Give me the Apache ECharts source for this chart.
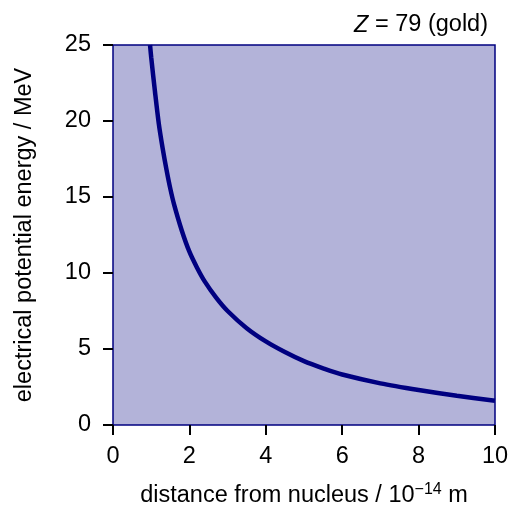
<!DOCTYPE html>
<html><head><meta charset="utf-8">
<script src="https://cdn.jsdelivr.net/npm/echarts@6/dist/echarts.min.js"></script>
<style>html,body{margin:0;padding:0;background:#fff}#c{width:513px;height:513px}</style>
</head><body><div id="c"></div>
<script>
const distances = [0.97, 1.0, 1.1, 1.2, 1.3, 1.4, 1.5, 1.6, 1.8, 2.0, 2.2, 2.4, 2.7, 3.0, 3.5, 4.0, 4.5, 5.0, 5.5, 6.0, 7.0, 8.0, 9.0, 10.0];
const energies  = [25.0, 24.2, 21.9, 19.8, 18.2, 16.8, 15.55, 14.5, 12.8, 11.4, 10.35, 9.45, 8.38, 7.5, 6.37, 5.5, 4.8, 4.2, 3.73, 3.32, 2.74, 2.3, 1.92, 1.59];
const xTicks = [0, 2, 4, 6, 8, 10];
const yTicks = [0, 5, 10, 15, 20, 25];
const pts = distances.map((d, i) => [d, energies[i]]);
const font = 'Liberation Sans, Arial, sans-serif';
const fs = 23.5;
const chart = echarts.init(document.getElementById('c'), null, {renderer: 'canvas'});
chart.setOption({
  animation: false,
  title: {
    text: '{i|Z} = 79 (gold)', right: 20, top: 8,
    textStyle: { fontFamily: font, fontSize: fs, fontWeight: 'normal', color: '#000',
      rich: { i: { fontStyle: 'italic', fontFamily: font, fontSize: fs, color: '#000' } } }
  },
  grid: { left: 113, right: 18, top: 45, bottom: 86, show: true,
    backgroundColor: '#b3b3d9', borderColor: '#000080', borderWidth: 1.5 },
  xAxis: {
    type: 'value', min: xTicks[0], max: xTicks[xTicks.length - 1], interval: 2,
    axisLine: { show: false },
    axisTick: { show: true, length: 10, lineStyle: { color: '#000', width: 2 } },
    splitLine: { show: false },
    axisLabel: { margin: 20, fontFamily: font, fontSize: fs, color: '#000' },
    name: 'distance from nucleus / 10{s|−14} m',
    nameLocation: 'middle', nameGap: 57,
    nameTextStyle: { fontFamily: font, fontSize: fs, color: '#000',
      rich: { s: { fontFamily: font, fontSize: 16, color: '#000', padding: [0, 0, 12, 0] } } }
  },
  yAxis: {
    type: 'value', min: yTicks[0], max: yTicks[yTicks.length - 1], interval: 5,
    axisLine: { show: false },
    axisTick: { show: true, length: 10, lineStyle: { color: '#000', width: 2 } },
    splitLine: { show: false },
    axisLabel: { margin: 22, fontFamily: font, fontSize: fs, color: '#000' },
    name: 'electrical potential energy / MeV',
    nameLocation: 'middle', nameGap: 76,
    nameTextStyle: { fontFamily: font, fontSize: fs, color: '#000' }
  },
  series: [{
    type: 'line', data: pts, smooth: 0.3, showSymbol: false, clip: true,
    lineStyle: { color: '#000080', width: 4.5 }
  }]
});
</script></body></html>
